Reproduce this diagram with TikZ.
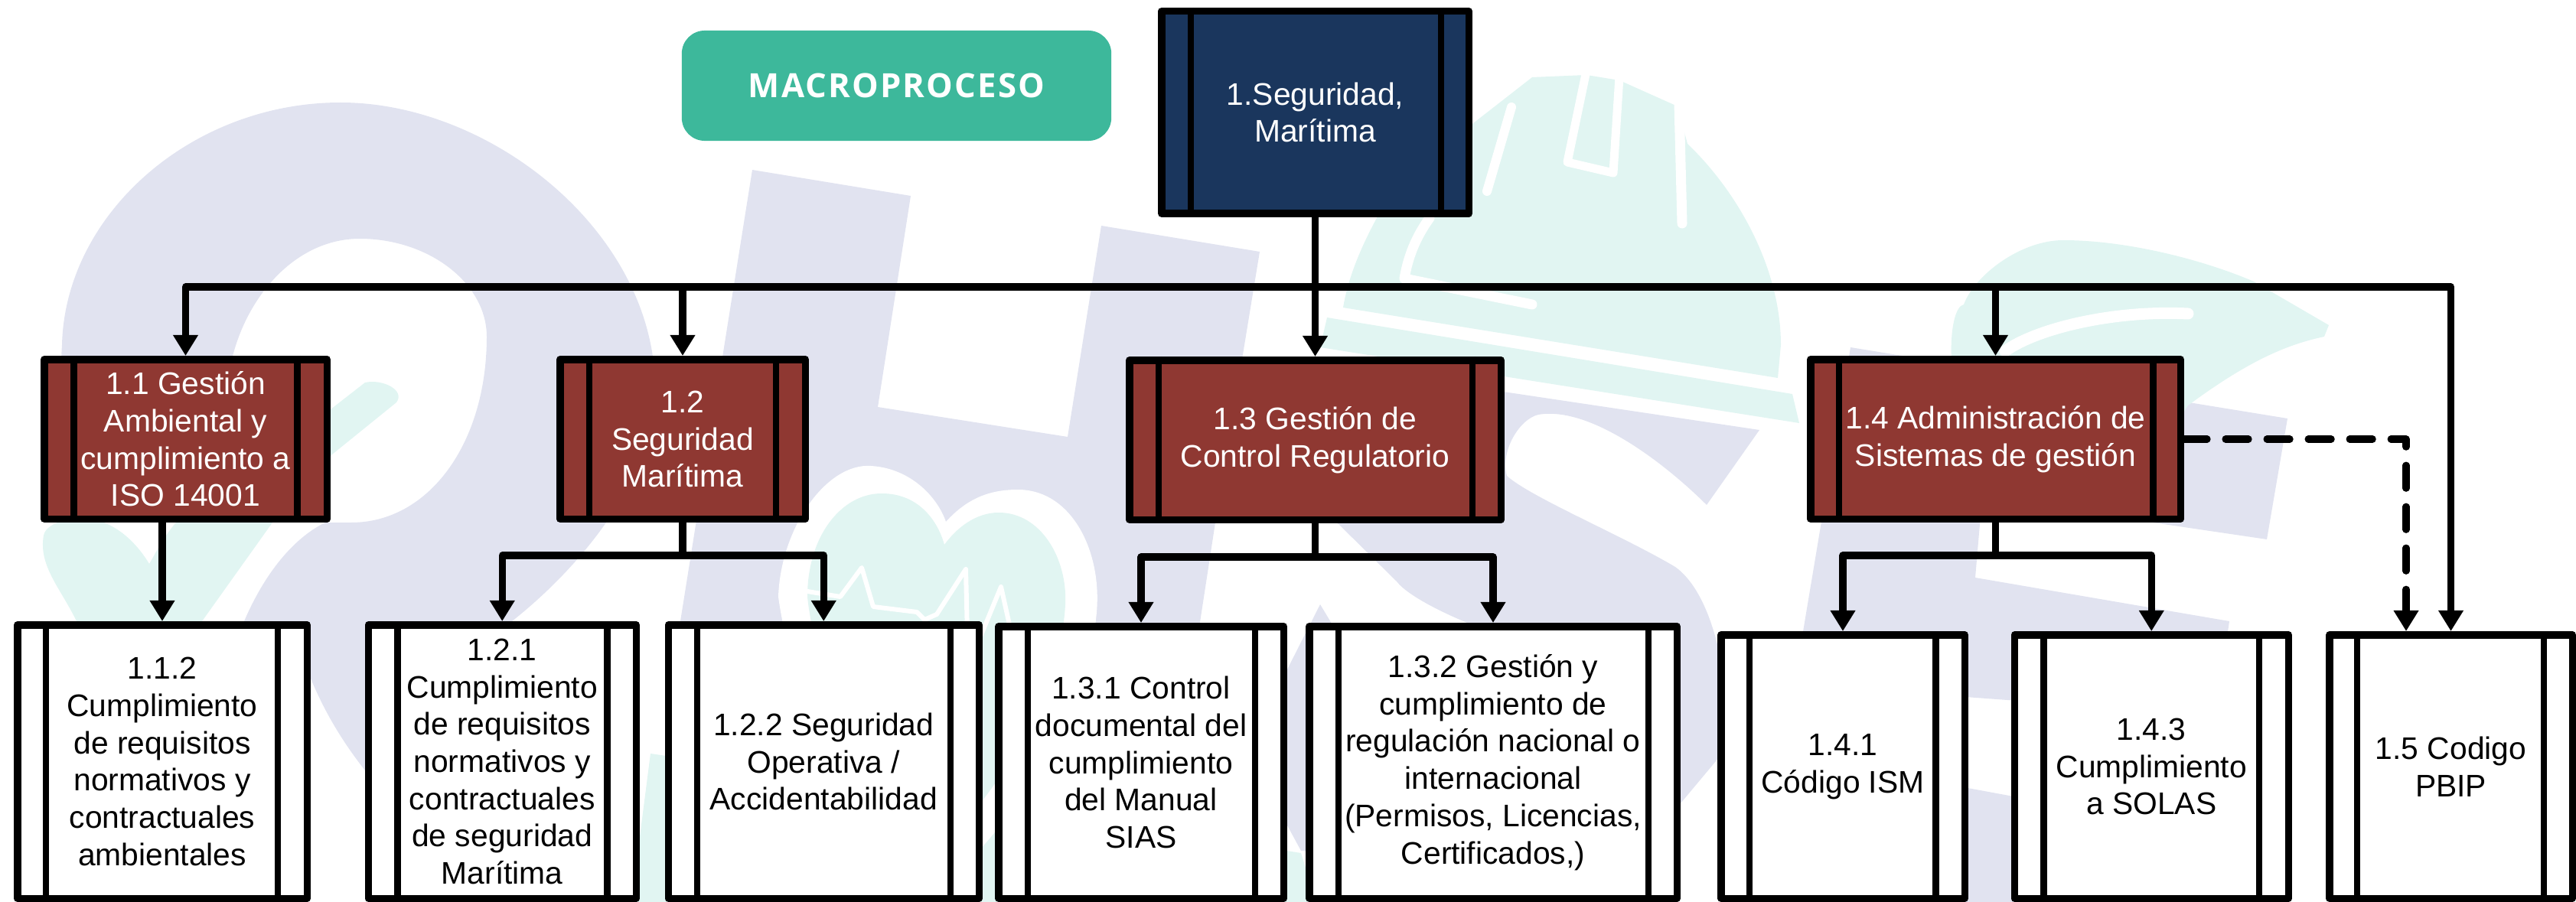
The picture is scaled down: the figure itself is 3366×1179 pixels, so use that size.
\documentclass[tikz,border=0pt]{standalone}
\usepackage{fontspec}
\setmainfont{Liberation Sans}
\newfontfamily\greenfont[LetterSpace=5]{Open Sans}
\usetikzlibrary{arrows.meta,calc}
\definecolor{wmnavy}{HTML}{E1E3F0}
\definecolor{wmteal}{HTML}{E1F5F2}
\definecolor{tagteal}{HTML}{3DB89B}
\definecolor{boxblue}{HTML}{1A365D}
\definecolor{boxbrown}{HTML}{8F3832}
\tikzset{
  pbox/.style={draw=black,line width=0.095cm,line join=round,inner sep=0pt,align=center,
    font=\fontsize{11.6}{13.85}\selectfont},
  boxnavy/.style={fill=boxblue,text=white},
  boxred/.style={fill=boxbrown,text=white},
  boxwhite/.style={fill=white,text=black},
  pline/.style={draw=black,line width=0.088cm},
  conn/.style={draw=black,line width=0.092cm,line join=round},
  arr/.style={conn,-{Triangle[length=0.27cm,width=0.31cm]}},
  dasharr/.style={arr,line cap=round,dash pattern=on 0.30cm off 0.24cm},
  wmn/.style={fill=wmnavy,draw=none},
  wmt/.style={fill=wmteal,draw=none},
  wmw/.style={draw=white,line cap=round,line join=round},
}
\newcommand\ProcBox[9]{%
  \node[pbox,#8,minimum width={(#3-#2-9.5)*0.01cm},minimum height={(#5-#4-9.5)*0.01cm}] (#1)
     at ({(#2+#3)/2},{(#4+#5)/2}) {#9};
  \draw[pline] (#6,0 |- #1.north) -- (#6,0 |- #1.south);
  \draw[pline] (#7,0 |- #1.north) -- (#7,0 |- #1.south);
}
\begin{document}
\begin{tikzpicture}[x=0.01cm,y=-0.01cm]
\useasboundingbox (0,0) rectangle (3366,1179);
% ---- watermark ----
% O
\fill[wmn] (88,650) .. controls (78,560) and (78,500) .. (81,451)
  .. controls (85,280) and (250,134) .. (445,134)
  .. controls (640,134) and (850,300) .. (856,500)
  .. controls (860,620) and (760,740) .. (669,812)
  .. controls (600,880) and (560,960) .. (540,1060)
  -- (477,1007) .. controls (440,960) and (420,920) .. (406,887)
  -- (319,812) .. controls (350,740) and (390,700) .. (425,683)
  -- (459,683) .. controls (560,683) and (636,580) .. (636,440)
  .. controls (636,370) and (560,312) .. (470,312)
  .. controls (380,312) and (310,400) .. (298,497)
  .. controls (290,550) and (280,600) .. (275,650) -- cycle;
% H
\fill[wmn] (983,222) -- (1190,256) -- (1147,532) -- (1395,571) -- (1439,295) -- (1646,329)
  -- (1588,683) -- (1568,813) -- (1535,1179) -- (860,1179) -- (889,812) -- cycle;
% S
\fill[wmn] (2299,562) -- (2230,660) .. controls (2180,610) and (2080,530) .. (2010,542)
  .. controls (1985,548) and (1960,590) .. (1969,622)
  .. controls (2000,650) and (2120,700) .. (2189,741)
  .. controls (2230,770) and (2260,860) .. (2257,977)
  -- (2196,1050) .. controls (2100,1110) and (2000,1130) .. (1700,1112)
  -- (1650,1020) -- (1682,875) -- (1725,790) -- (1749,830) -- (1960,830)
  .. controls (1900,810) and (1840,780) .. (1825,760) -- (1749,685) -- (1600,600) -- (1730,477) -- cycle;
% E
\fill[wmn] (2418,454) -- (2989,547) -- (2962,705) -- (2590,650) -- (2581,755) -- (2913,812)
  -- (2895,935) -- (2555,910) -- (2555,1027) -- (2950,1100) -- (2940,1179) -- (2297,1179) -- cycle;
% bottom teal
\fill[wmt] (825,1179) -- (850,985) -- (1290,1050) -- (1700,1115) -- (1720,1179) -- cycle;
% left heart
\fill[wmt] (100,812) .. controls (80,770) and (50,740) .. (57,700)
  .. controls (60,680) and (110,670) .. (138,684)
  .. controls (165,695) and (185,720) .. (195,737)
  .. controls (205,720) and (215,700) .. (230,683)
  -- (400,560) -- (477,500) .. controls (500,495) and (530,510) .. (518,526)
  -- (434,594) -- (356,683) -- (264,812) -- cycle;
% central heart
\fill[white] (1017,780) .. controls (1020,690) and (1080,605) .. (1138,609)
  .. controls (1190,612) and (1225,650) .. (1236,682)
  .. controls (1265,650) and (1295,640) .. (1330,640)
  .. controls (1400,640) and (1440,720) .. (1433,800)
  .. controls (1420,950) and (1300,1100) .. (1240,1150)
  .. controls (1150,1080) and (1040,950) .. (1017,780) -- cycle;
\fill[wmt] (1055,780) .. controls (1055,700) and (1100,645) .. (1152,645)
  .. controls (1200,645) and (1225,680) .. (1234,712)
  .. controls (1250,690) and (1275,670) .. (1305,670)
  .. controls (1360,670) and (1395,730) .. (1392,790)
  .. controls (1385,920) and (1290,1050) .. (1235,1100)
  .. controls (1160,1040) and (1070,920) .. (1055,780) -- cycle;
\draw[wmw,line width=0.06cm] (1055,773) -- (1098,780) -- (1126,742) -- (1141,793) -- (1198,800)
  -- (1208,810) -- (1224,803) -- (1262,744) -- (1264,830);
\draw[wmw,line width=0.06cm] (1282,830) -- (1308,767) -- (1322,830);
% helmet
\fill[wmt] (1755,402) .. controls (1762,360) and (1780,320) .. (1800,283)
  -- (1920,165) -- (2002,101) -- (2073,98) -- (2116,105) -- (2192,139)
  -- (2205,188) .. controls (2270,250) and (2327,350) .. (2327,451) -- (2323,494) -- cycle;
\fill[wmt] (1734,415) -- (2342,515) -- (2351,553) -- (1725,454) -- cycle;
\draw[wmw,line width=0.13cm] (2194,135) -- (2198,292);
\draw[wmw,line width=0.11cm] (2073,92) -- (2048,212) -- (2108,226) -- (2116,100);
\draw[wmw,line width=0.12cm] (1975,140) -- (1943,250);
\draw[wmw,line width=0.13cm] (1868,285) .. controls (1850,310) and (1840,335) .. (1835,364) -- (2002,398);
% right leaf
\fill[wmt] (2550,470) .. controls (2548,430) and (2555,400) .. (2566,398)
  .. controls (2580,360) and (2640,314) .. (2696,314)
  .. controls (2780,314) and (2880,340) .. (2945,368)
  -- (3043,425) -- (3037,440) .. controls (2990,450) and (2940,470) .. (2859,530)
  -- (2800,620) -- (2600,620) -- cycle;
\draw[wmw,line width=0.15cm] (2620,459) .. controls (2660,430) and (2760,405) .. (2859,410);
% ---- tag ----
\node[fill=tagteal,text=white,rounded corners=0.3cm,minimum width=5.61cm,minimum height=1.44cm,inner sep=0pt,
  font=\greenfont\bfseries\fontsize{12.4}{14}\selectfont] (tag) at (1171.5,112) {\raisebox{-0.02cm}{MACROPROCESO}};
% ---- boxes ----
\ProcBox{m}{1513}{1924}{10}{284}{1556}{1883}{boxnavy}{1.Seguridad,\\Marítima}
\ProcBox{ma}{53}{432}{465}{683}{96.5}{388.6}{boxred}{1.1 Gestión\\Ambiental y\\cumplimiento a\\ISO 14001}
\ProcBox{mb}{727}{1057}{465}{683}{770}{1014}{boxred}{1.2\\Seguridad\\Marítima}
\ProcBox{mc}{1471}{1966}{466}{684}{1514}{1924}{boxred}{1.3 Gestión de\\Control Regulatorio}
\ProcBox{md}{2361}{2854}{465}{683}{2403}{2813.5}{boxred}{1.4 Administración de\\Sistemas de gestión}
\ProcBox{maa}{18}{406}{812}{1179}{60}{363}{boxwhite}{1.1.2\\Cumplimiento\\de requisitos\\normativos y\\contractuales\\ambientales}
\ProcBox{mba}{476.5}{836}{812}{1179}{519.5}{793.5}{boxwhite}{1.2.1\\Cumplimiento\\de requisitos\\normativos y\\contractuales\\de seguridad\\Marítima}
\ProcBox{mbb}{868.5}{1284}{812}{1179}{911}{1242}{boxwhite}{1.2.2 Seguridad\\Operativa /\\Accidentabilidad}
\ProcBox{mca}{1300}{1682}{814}{1179}{1343}{1640}{boxwhite}{1.3.1 Control\\documental del\\cumplimiento\\del Manual\\SIAS}
\ProcBox{mcb}{1706}{2196}{814}{1179}{1749}{2154}{boxwhite}{1.3.2 Gestión y\\cumplimiento de\\regulación nacional o\\internacional\\(Permisos, Licencias,\\Certificados,)}
\ProcBox{mda}{2244}{2572}{825}{1179}{2286}{2529.5}{boxwhite}{1.4.1\\Código ISM}
\ProcBox{mdc}{2627.5}{2995}{825}{1179}{2670.5}{2952}{boxwhite}{1.4.3\\Cumplimiento\\a SOLAS}
\ProcBox{me}{3039}{3366}{825}{1179}{3080}{3324}{boxwhite}{1.5 Codigo\\PBIP}
% ---- connectors ----
\coordinate (bus) at (m.south |- 0,375);
\coordinate (jb) at (mb.south |- 0,726);
\coordinate (jc) at (mc.south |- 0,728);
\coordinate (jd) at (md.south |- 0,726);
\coordinate (dashend) at (3144,0 |- me.north);
\draw[arr] (m.south) -- (mc.north);
\draw[arr] (bus) -| (ma.north);
\draw[arr] (bus) -| (mb.north);
\draw[arr] (bus) -| (md.north);
\draw[arr] (bus) -| (me.north);
\draw[arr] (maa.north |- ma.south) -- (maa.north);
\draw[conn] (mb.south) -- (jb);
\draw[arr] (jb) -| (mba.north);
\draw[arr] (jb) -| (mbb.north);
\draw[conn] (mc.south) -- (jc);
\draw[arr] (jc) -| (mca.north);
\draw[arr] (jc) -| (mcb.north);
\draw[conn] (md.south) -- (jd);
\draw[arr] (jd) -| (mda.north);
\draw[arr] (jd) -| (mdc.north);
\draw[dasharr] (md.east) -| (dashend);
\end{tikzpicture}
\end{document}
